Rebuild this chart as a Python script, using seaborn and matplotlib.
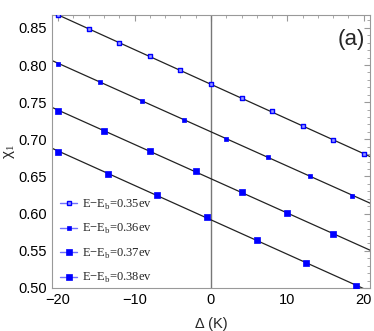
import matplotlib
matplotlib.use("Agg")
import matplotlib.pyplot as plt
import numpy as np
import pandas as pd
import seaborn as sns
from matplotlib.lines import Line2D
from matplotlib.ticker import MultipleLocator, FormatStrFormatter

# values
x_035 = [-20, -16, -12, -8, -4, 0, 4, 8, 12, 16, 20]
y_035 = [0.867, 0.848, 0.830, 0.8115, 0.793, 0.775, 0.756, 0.7375, 0.718, 0.6985, 0.680]
x_036 = [-20, -14.5, -9, -3.5, 2, 7.5, 13, 18.5]
y_036 = [0.802, 0.7766, 0.752, 0.7266, 0.701, 0.676, 0.6505, 0.624]
x_037 = [-20, -14, -8, -2, 4, 10, 16]
y_037 = [0.7384, 0.7118, 0.6843, 0.657, 0.6287, 0.6008, 0.5724]
x_038 = [-20, -13.5, -7, -0.5, 6, 12.5, 19]
y_038 = [0.683, 0.654, 0.625, 0.595, 0.565, 0.534, 0.502]
labels = ["E\u2212E$_\\mathrm{b}$=0.35ev", "E\u2212E$_\\mathrm{b}$=0.36ev",
          "E\u2212E$_\\mathrm{b}$=0.37ev", "E\u2212E$_\\mathrm{b}$=0.38ev"]

series = [(x_035, y_035), (x_036, y_036), (x_037, y_037), (x_038, y_038)]
styles = [dict(s=9, facecolor="#9999ff", edgecolor="blue", linewidth=1.0),
          dict(s=8, facecolor="blue", edgecolor="blue", linewidth=0.5),
          dict(s=20, facecolor="blue", edgecolor="blue", linewidth=0.5),
          dict(s=25, facecolor="blue", edgecolor="blue", linewidth=0.5)]

sns.set_style("white")
plt.rcParams["font.family"] = ["Liberation Sans", "DejaVu Sans"]
plt.rcParams["mathtext.fontset"] = "custom"
plt.rcParams["mathtext.rm"] = "Liberation Serif"

fig = plt.figure(figsize=(3.74, 3.31), dpi=100)
ax = fig.add_axes([0.139, 0.130, 0.850, 0.824])

ax.axvline(0, color="#777777", lw=1.0, zorder=1)

xfit = np.array([-21.0, 21.0])
for (xs, ys), st in zip(series, styles):
    k, b = np.polyfit(xs, ys, 1)
    df_fit = pd.DataFrame({"x": xfit, "y": k * xfit + b})
    sns.lineplot(data=df_fit, x="x", y="y", color="#222222", lw=0.9, ax=ax, zorder=2)
    df = pd.DataFrame({"x": xs, "y": ys})
    sns.scatterplot(data=df, x="x", y="y", marker="s", ax=ax, zorder=3, **st)

ax.set_xlim(-20.8, 20.8)
ax.set_ylim(0.5, 0.867)
ax.xaxis.set_major_locator(MultipleLocator(10))
ax.xaxis.set_minor_locator(MultipleLocator(2))
ax.yaxis.set_major_locator(MultipleLocator(0.05))
ax.yaxis.set_minor_locator(MultipleLocator(0.01))
ax.yaxis.set_major_formatter(FormatStrFormatter("%.2f"))
ax.tick_params(which="both", direction="in", top=True, right=True, color="#999999",
               labelsize=10.5, labelcolor="black")
ax.tick_params(which="major", length=4, width=0.8)
ax.tick_params(which="minor", length=2, width=0.6)
for sp in ax.spines.values():
    sp.set_color("#999999")
    sp.set_linewidth(0.8)

ax.set_xlabel("\u0394 (K)", fontsize=10.5, labelpad=7)
ax.set_ylabel("\u03c7$_1$", fontsize=11)
ax.yaxis.set_label_coords(-0.11, 0.5)
ax.text(0.985, 0.95, "(a)", transform=ax.transAxes, ha="right", va="top", fontsize=16)

handles = []
for st in styles:
    ms = np.sqrt(st["s"])
    handles.append(Line2D([0], [0], color="#6f6fff", lw=1.0, marker="s", markersize=ms,
                          markerfacecolor=st["facecolor"], markeredgecolor="blue",
                          markeredgewidth=st["linewidth"]))
leg = ax.legend(handles, labels, loc="upper left", bbox_to_anchor=(0.01, 0.35), frameon=False,
                borderaxespad=0, handlelength=1.36, handletextpad=0.4, labelspacing=0.84,
                prop={"family": "Liberation Serif", "size": 9})

fig.savefig("out.png", dpi=100)
